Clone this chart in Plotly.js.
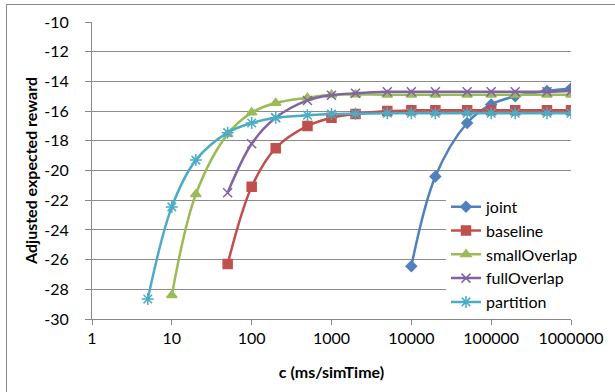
<!DOCTYPE html>
<html><head><meta charset="utf-8">
<script src="https://cdn.plot.ly/plotly-3.0.1.min.js"></script>
<style>
html,body{margin:0;padding:0;background:#fff;}
#frame{position:absolute;left:6px;top:4px;width:640px;height:420px;border-left:1px solid #888;border-top:1px solid #888;pointer-events:none;z-index:5;}
#chart{position:absolute;left:0;top:0;width:615px;height:392px;}
</style></head>
<body>
<div id="chart"></div>
<div id="frame"></div>
<script>
const seriesNames = ["joint","baseline","smallOverlap","fullOverlap","partition"];
const jointX = [10000,20000,50000,100000,200000,500000,1000000];
const jointY = [-26.45,-20.4,-16.8,-15.55,-15.0,-14.65,-14.48];
const baselineX = [50,100,200,500,1000,2000,5000,10000,20000,50000,100000,200000,500000,1000000];
const baselineY = [-26.3,-21.1,-18.5,-17.0,-16.45,-16.2,-16.0,-15.95,-15.95,-15.95,-15.95,-15.95,-15.95,-15.95];
const smallX = [10,20,50,100,200,500,1000,2000,5000,10000,20000,50000,100000,200000,500000,1000000];
const smallY = [-28.4,-21.6,-17.55,-16.1,-15.45,-15.1,-14.9,-14.88,-14.9,-14.9,-14.9,-14.9,-14.9,-14.9,-14.9,-14.9];
const fullX = [50,100,200,500,1000,2000,5000,10000,20000,50000,100000,200000,500000,1000000];
const fullY = [-21.5,-18.2,-16.45,-15.28,-14.93,-14.8,-14.7,-14.7,-14.7,-14.7,-14.7,-14.7,-14.7,-14.65];
const partX = [5,10,20,50,100,200,500,1000,2000,5000,10000,20000,50000,100000,200000,500000,1000000];
const partY = [-28.65,-22.45,-19.3,-17.45,-16.8,-16.45,-16.28,-16.2,-16.18,-16.15,-16.15,-16.15,-16.15,-16.15,-16.15,-16.15,-16.15];
const xTickVals = [1,10,100,1000,10000,100000,1000000];
const xTickText = ["1","10","100","1000","10000","100000","1000000"];
const yTickVals = [-30,-28,-26,-24,-22,-20,-18,-16,-14,-12,-10];
const yTickText = ["-30","-28","-26","-24","-22","-20","-18","-16","-14","-12","-10"];

const colors = ["#4F81BD","#C0504D","#9BBB59","#8064A2","#4BACC6"];
const symbols = ["diamond","square","triangle-up","x-thin-open","asterisk-open"];
const sizes = [8,9,9,9,10];
const xs = [jointX,baselineX,smallX,fullX,partX];
const ys = [jointY,baselineY,smallY,fullY,partY];

const traces = seriesNames.map((n,i)=>({
  type:"scatter", mode:"lines+markers", name:n, x:xs[i], y:ys[i],
  line:{color:colors[i], width:2.5, shape:"spline", smoothing:1},
  marker:{symbol:symbols[i], size:sizes[i], color:colors[i], line:{color:colors[i], width:1.5}}
}));

const font = "Lato, 'Open Sans', sans-serif";
const layout = {
  width:615, height:392,
  margin:{l:92, r:44, t:22, b:73},
  paper_bgcolor:"#fff", plot_bgcolor:"#fff",
  font:{family:font, size:16, color:"#000"},
  showlegend:true,
  legend:{x:1.0, xanchor:"left", y:0.435, yanchor:"top", bgcolor:"#fff",
          font:{family:font, size:16, color:"#000"}, tracegroupgap:0, itemwidth:30,
          xref:"paper", yref:"paper"},
  xaxis:{type:"log", range:[0,6], tickvals:xTickVals, ticktext:xTickText,
         showgrid:false, showline:true, linecolor:"#888", linewidth:1,
         ticks:"outside", ticklen:5, tickcolor:"#888", zeroline:false,
         tickfont:{family:font, size:16},
         title:{text:"<b>c (ms/simTime)</b>", font:{family:font, size:16}, standoff:20}},
  yaxis:{range:[-30,-10], tickvals:yTickVals, ticktext:yTickText, showgrid:true, gridcolor:"#8c8c8c", gridwidth:1,
         showline:true, linecolor:"#888", linewidth:1, ticks:"outside", ticklen:6, tickcolor:"#888",
         ticklabelstandoff:13,
         zeroline:false, tickfont:{family:font, size:16},
         title:{text:"<b>Adjusted expected reward</b>", font:{family:font, size:16}, standoff:2}}
};
layout.legend.x = (446-92)/(615-92-44);
Plotly.newPlot("chart", traces, layout, {displayModeBar:false, staticPlot:true});
</script>
</body></html>
